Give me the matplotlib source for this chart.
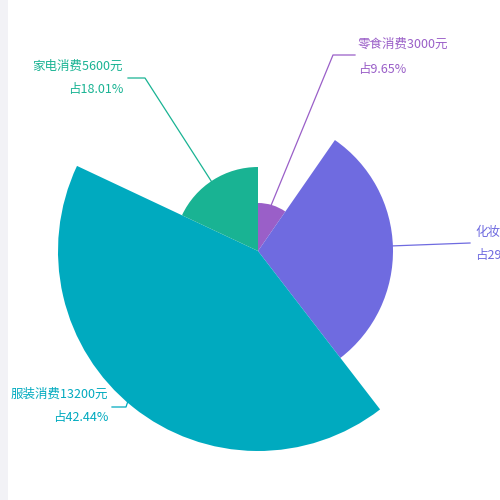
import matplotlib.pyplot as plt
from matplotlib.patches import Wedge, Rectangle

plt.rcParams['font.family'] = ['Noto Sans CJK SC', 'DejaVu Sans']

names = ['零食消费', '化妆品消费', '服装消费', '家电消费']
values = [3000, 9300, 13200, 5600]
colors = ['#9a5fc8', '#6f6be0', '#00aabf', '#19b393']
radii = [48, 135, 200, 84]

total = sum(values)
fig = plt.figure(figsize=(5, 5), dpi=100)
ax = fig.add_axes([0, 0, 1, 1])
ax.set_xlim(0, 500)
ax.set_ylim(0, 500)
ax.axis('off')
ax.add_patch(Rectangle((0, 0), 8, 500, color='#f2f2f6', lw=0))

cx, cy = 258, 249
start = 0.0
for v, c, r in zip(values, colors, radii):
    frac = v / total
    a0 = 90 - (start + frac) * 360
    a1 = 90 - start * 360
    ax.add_patch(Wedge((cx, cy), r, a0, a1, color=c, lw=0))
    start += frac

# leader lines and labels (pixel layout, y measured from bottom)
lines = [
    [(270, 292), (333, 445), (355, 445)],
    [(390, 254), (470, 257)],
    [(130, 105), (126, 93), (112, 93)],
    [(215, 313), (145, 422), (128, 422)],
]
labels = [
    (358, 456, 26, 'left'),
    (475, 268, 24, 'left'),
    (108, 106, 24, 'right'),
    (123, 434, 23, 'right'),
]
for i, (pts, (x, y, gap, ha)) in enumerate(zip(lines, labels)):
    xs, ys = zip(*pts)
    ax.plot(xs, ys, color=colors[i], lw=0.9)
    pct = values[i] / total * 100
    ax.text(x, y, f'{names[i]}{values[i]}元', color=colors[i], fontsize=9,
            ha=ha, va='center')
    ax.text(x, y - gap, f'占{pct:.2f}%', color=colors[i], fontsize=9,
            ha=ha, va='center')

fig.savefig('out.png')
